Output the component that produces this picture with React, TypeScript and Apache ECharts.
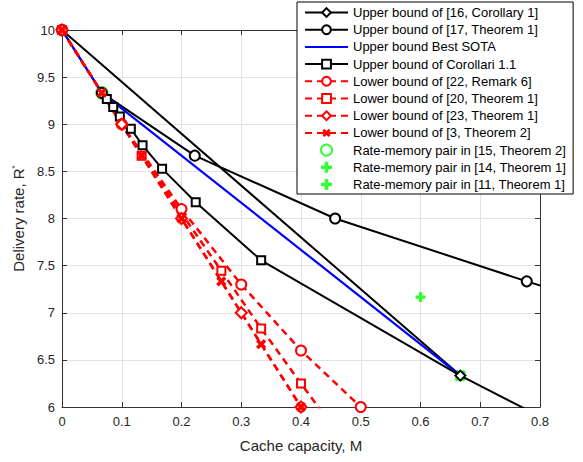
import React, { useEffect, useRef } from 'react';
import * as echarts from 'echarts';

const FONT = '"Liberation Sans", Arial, Helvetica, sans-serif';

// Series names (legend order)
const names = [
  'Upper bound of [16, Corollary 1]',
  'Upper bound of [17, Theorem 1]',
  'Upper bound Best SOTA',
  'Upper bound of Corollari 1.1',
  'Lower bound of [22, Remark 6]',
  'Lower bound of [20, Theorem 1]',
  'Lower bound of [23, Theorem 1]',
  'Lower bound of [3, Theorem 2]',
  'Rate-memory pair in [15, Theorem 2]',
  'Rate-memory pair in [14, Theorem 1]',
  'Rate-memory pair in [11, Theorem 1]',
];

// Data
const ub16X = [0, 0.6667];
const ub16Y = [10, 6.3333];
const ub17X = [0, 0.0667, 0.2222, 0.4571, 0.7778, 1.0];
const ub17Y = [10, 9.3333, 8.6667, 8.0, 7.3333, 6.9];
const sotaX = [0, 0.0667, 0.6667];
const sotaY = [10, 9.3333, 6.3333];
const corX = [0.0667, 0.075, 0.0857, 0.0968, 0.1152, 0.1348, 0.1675, 0.2238, 0.3333, 0.6667, 0.8];
const corY = [9.3333, 9.267, 9.182, 9.083, 8.952, 8.776, 8.529, 8.172, 7.556, 6.3333, 5.9];
const lb22X = [0, 0.1, 0.2, 0.3, 0.4, 0.5];
const lb22Y = [10, 9, 8.1, 7.3, 6.6, 6.0];
const lb20X = [0, 0.1333, 0.2667, 0.3333, 0.4, 0.4667];
const lb20Y = [10, 8.6667, 7.4444, 6.8333, 6.25, 5.67];
const lb23X = [0, 0.1, 0.2, 0.3, 0.4];
const lb23Y = [10, 9, 8, 7, 6];
const lb3X = [0, 0.0667, 0.1333, 0.2, 0.2667, 0.3333, 0.4];
const lb3Y = [10, 9.3333, 8.6667, 8, 7.3333, 6.6667, 6];
const p15X = [0.0667];
const p15Y = [9.3333];
const p14X = [0.6];
const p14Y = [7.1667];
const p11X = [0.6667];
const p11Y = [6.3333];

const xTicks = [0, 0.1, 0.2, 0.3, 0.4, 0.5, 0.6, 0.7, 0.8];
const yTicks = [6, 6.5, 7, 7.5, 8, 8.5, 9, 9.5, 10];

const PLUS = 'path://M-1.6,-5H1.6V-1.6H5V1.6H1.6V5H-1.6V1.6H-5V-1.6H-1.6Z';

function pts(xs: number[], ys: number[], hide: number[] = []) {
  return xs.map((x, i) =>
    hide.includes(i) ? { value: [x, ys[i]], symbol: 'none' } : { value: [x, ys[i]] }
  );
}

export default function App() {
  const ref = useRef<HTMLDivElement>(null);
  useEffect(() => {
    if (!ref.current) return;
    const chart = echarts.init(ref.current, undefined, { renderer: 'svg' });
    const axisColor = '#333333';
    const gridColor = '#e2e2e2';
    const black = (i: number, xs: number[], ys: number[], symbol: string, size: number, hide: number[] = []) => ({
      name: names[i],
      type: 'line',
      data: pts(xs, ys, hide),
      symbol,
      symbolSize: size,
      showAllSymbol: true,
      clip: true,
      lineStyle: { color: '#000', width: 2 },
      itemStyle: { color: '#000', borderColor: '#000', borderWidth: 1.6 },
    });
    const red = (i: number, xs: number[], ys: number[], symbol: string, size: number, bw: number, rotate = 0, hide: number[] = []) => ({
      name: names[i],
      type: 'line',
      data: pts(xs, ys, hide),
      symbol,
      symbolSize: size,
      symbolRotate: rotate,
      showAllSymbol: true,
      clip: true,
      lineStyle: { color: '#ff0000', width: 2.5, type: [7, 5] },
      itemStyle: { color: '#ff0000', borderColor: '#ff0000', borderWidth: bw },
    });
    const option: any = {
      animation: false,
      backgroundColor: '#fff',
      grid: { left: 62, right: 43, top: 30, bottom: 55, containLabel: false },
      xAxis: [
        {
          type: 'value', min: 0, max: 0.8, interval: 0.1, position: 'bottom',
          axisLine: { show: true, onZero: false, lineStyle: { color: axisColor, width: 1 } },
          axisTick: { show: true, inside: true, length: 5, lineStyle: { color: axisColor } },
          axisLabel: {
            color: '#262626', fontSize: 13, fontFamily: FONT, margin: 8,
            formatter: (v: number) => {
              const t = xTicks.find((k) => Math.abs(k - v) < 1e-6);
              return t === undefined ? '' : String(t);
            },
          },
          splitLine: { show: true, lineStyle: { color: gridColor, width: 1 } },
          name: 'Cache capacity, M', nameLocation: 'middle', nameGap: 31,
          nameTextStyle: { color: '#262626', fontSize: 15, fontFamily: FONT },
        },
        {
          type: 'value', min: 0, max: 0.8, interval: 0.1, position: 'top',
          axisLine: { show: true, onZero: false, lineStyle: { color: axisColor, width: 1 } },
          axisTick: { show: true, inside: true, length: 5, lineStyle: { color: axisColor } },
          axisLabel: { show: false },
          splitLine: { show: false },
        },
      ],
      yAxis: [
        {
          type: 'value', min: 6, max: 10, interval: 0.5, position: 'left',
          axisLine: { show: true, onZero: false, lineStyle: { color: axisColor, width: 1 } },
          axisTick: { show: true, inside: true, length: 5, lineStyle: { color: axisColor } },
          axisLabel: {
            color: '#262626', fontSize: 13, fontFamily: FONT, margin: 7,
            formatter: (v: number) => {
              const t = yTicks.find((k) => Math.abs(k - v) < 1e-6);
              return t === undefined ? '' : String(t);
            },
          },
          splitLine: { show: true, lineStyle: { color: gridColor, width: 1 } },
          name: 'Delivery rate, R{sup|*}', nameLocation: 'middle', nameGap: 28,
          nameTextStyle: {
            color: '#262626', fontSize: 15, fontFamily: FONT,
            rich: { sup: { fontSize: 8, fontFamily: FONT, color: '#262626', padding: [0, 0, 8, 0] } },
          },
        },
        {
          type: 'value', min: 6, max: 10, interval: 0.5, position: 'right',
          axisLine: { show: true, onZero: false, lineStyle: { color: axisColor, width: 1 } },
          axisTick: { show: true, inside: true, length: 5, lineStyle: { color: axisColor } },
          axisLabel: { show: false },
          splitLine: { show: false },
        },
      ],
      legend: {
        orient: 'vertical', left: 297, top: 2,
        padding: [4, 7, 3, 7],
        itemGap: 4.2, itemWidth: 43, itemHeight: 11,
        backgroundColor: '#fff', borderColor: '#000', borderWidth: 1, borderRadius: 0,
        textStyle: { fontSize: 13, fontFamily: FONT, color: '#000' },
        data: names.map((n, i) => (i === 2 ? { name: n, itemStyle: { opacity: 0 } } : { name: n })),
      },
      series: [
        black(0, ub16X, ub16Y, 'emptyDiamond', 10),
        black(1, ub17X, ub17Y, 'emptyCircle', 10, [5]),
        {
          name: names[2], type: 'line', data: pts(sotaX, sotaY), symbol: 'none', clip: true,
          lineStyle: { color: '#0000ff', width: 2.2 }, itemStyle: { color: '#0000ff' },
        },
        black(3, corX, corY, 'emptyRect', 8, [0, 9, 10]),
        red(4, lb22X, lb22Y, 'emptyCircle', 10, 2.2),
        red(5, lb20X, lb20Y, 'emptyRect', 8, 2.6, 0, [5]),
        red(6, lb23X, lb23Y, 'emptyDiamond', 11, 3),
        red(7, lb3X, lb3Y, PLUS, 11, 0, 45),
        {
          name: names[8], type: 'scatter', data: pts(p15X, p15Y), symbol: 'circle', symbolSize: 11,
          itemStyle: { color: 'rgba(0,0,0,0)', borderColor: '#00ff00', borderWidth: 2.5 },
        },
        {
          name: names[9], type: 'scatter', data: pts(p14X, p14Y), symbol: PLUS, symbolSize: 10,
          itemStyle: { color: '#00ff00' },
        },
        {
          name: names[10], type: 'scatter', data: pts(p11X, p11Y), symbol: PLUS, symbolSize: 13, symbolRotate: 45,
          itemStyle: { color: '#00ff00' },
        },
      ],
    };
    chart.setOption(option);
    return () => chart.dispose();
  }, []);
  return <div ref={ref} style={{ width: 583, height: 462, position: 'absolute', left: 0, top: 0 }} />;
}
